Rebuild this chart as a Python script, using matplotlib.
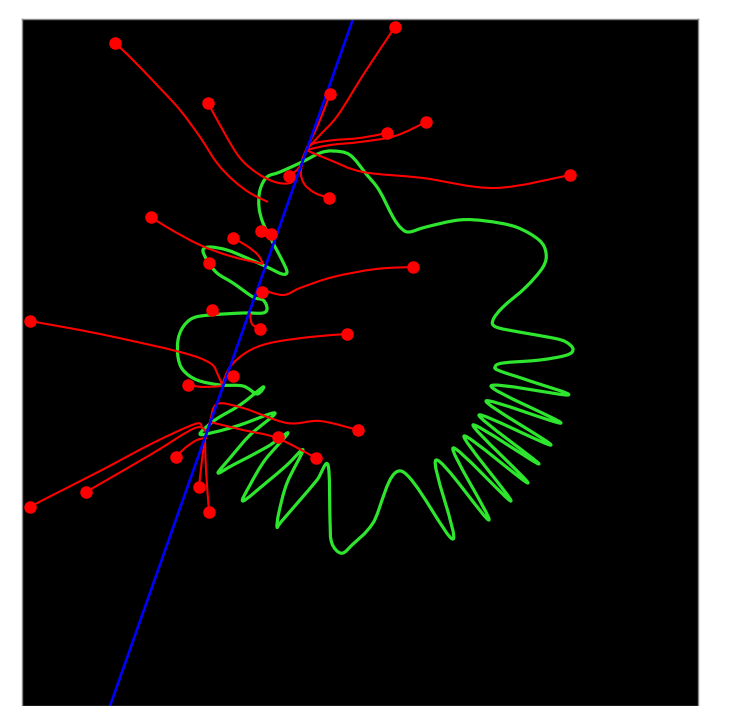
import matplotlib
matplotlib.use("Agg")
import matplotlib.pyplot as plt
from matplotlib.path import Path
from matplotlib.patches import PathPatch
import numpy as np

# Green closed outline (x, y), y grows downward
green_x = [302, 320, 333, 350, 367, 379, 393, 401, 409, 426, 459, 486, 516, 539, 546, 543, 526, 503, 493, 496,
           519, 553, 566, 573, 567, 540, 503, 495, 500, 530, 568, 491, 561, 486, 551, 479, 539, 473,
           528, 464, 511, 453, 489, 436, 453, 401, 373, 352, 343, 336, 331, 330, 328, 317, 300, 281,
           277, 279, 287, 303, 287, 267, 243, 250, 265, 288, 267, 233, 218, 230, 250, 275, 240, 215,
           200, 215, 240, 263, 257, 243, 220, 197, 183, 178, 178, 183, 193, 210, 243, 263, 267, 263,
           253, 233, 217, 207, 203, 210, 227, 247, 267, 282, 287, 282, 273, 263, 259, 260, 267, 280]
green_y = [162, 153, 151, 155, 175, 190, 217, 228, 232, 227, 220, 221, 227, 240, 253, 267, 287, 307, 320, 327,
           332, 338, 342, 349, 355, 360, 363, 367, 371, 381, 395, 386, 423, 401, 445, 415, 464, 425,
           483, 436, 501, 448, 520, 460, 539, 471, 523, 545, 553, 550, 540, 520, 465, 480, 500, 522,
           527, 512, 483, 450, 465, 482, 501, 485, 460, 433, 447, 465, 473, 458, 435, 413, 425, 432,
           434, 420, 405, 387, 394, 386, 385, 380, 370, 357, 340, 327, 318, 315, 313, 313, 308, 300,
           297, 283, 273, 260, 250, 247, 250, 258, 267, 274, 272, 260, 243, 223, 207, 190, 177, 172]

# Blue straight line, ends read at the frame edges
blue_x = [353, 110]
blue_y = [19, 706]

# Red branches: first point of each carries a dot
red_branches = [
    [(395, 27), (365, 72), (338, 115), (320, 135), (306, 150)],
    [(330, 94), (318, 125), (306, 150), (302, 160)],
    [(387, 133), (360, 138), (335, 140), (315, 143), (306, 148)],
    [(426, 122), (395, 136), (360, 142), (330, 145), (306, 150)],
    [(570, 175), (495, 188), (423, 178), (363, 172), (330, 160), (306, 150)],
    [(329, 198), (315, 193), (305, 185), (301, 175), (302, 163)],
    [(115, 43), (130, 57), (157, 85), (180, 110), (200, 137), (217, 163), (233, 180), (250, 193), (268, 202)],
    [(208, 103), (225, 134), (240, 158), (257, 173), (275, 182), (290, 183), (298, 175), (302, 163)],
    [(289, 176), (297, 170), (302, 163)],
    [(151, 217), (170, 229), (200, 245), (230, 256), (263, 264)],
    [(233, 238), (247, 246), (258, 255), (263, 264)],
    [(261, 231)],
    [(271, 234), (275, 243)],
    [(209, 263)],
    [(413, 267), (376, 269), (333, 277), (300, 288), (283, 295), (260, 289)],
    [(262, 292)],
    [(260, 329), (252, 324), (250, 313)],
    [(212, 310), (219, 314)],
    [(30, 321), (100, 334), (180, 352), (210, 363), (218, 375), (222, 385)],
    [(347, 334), (310, 337), (270, 343), (247, 352), (230, 367), (222, 385)],
    [(233, 376)],
    [(188, 385), (203, 387), (222, 386)],
    [(358, 430), (320, 421), (287, 423), (243, 408), (217, 404), (210, 422)],
    [(316, 458), (277, 438), (243, 430), (210, 422)],
    [(278, 437)],
    [(30, 507), (43, 500), (100, 471), (153, 443), (195, 424), (202, 427)],
    [(86, 492), (150, 455), (195, 428), (207, 433)],
    [(176, 457), (185, 448), (197, 440), (207, 438)],
    [(199, 487), (202, 460), (205, 440), (210, 422)],
    [(209, 512), (206, 470), (205, 440)],
]


def smooth_path(pts, closed=False):
    # Catmull-Rom through the traced points, drawn as cubic Bezier segments
    pts = np.asarray(pts, dtype=float)
    n = len(pts)
    if closed:
        ext = np.vstack([pts[-1], pts, pts[0], pts[1]])
    else:
        ext = np.vstack([pts[0], pts, pts[-1]])
    verts = [ext[1]]
    codes = [Path.MOVETO]
    segs = n if closed else n - 1
    for i in range(segs):
        p0, p1, p2, p3 = ext[i], ext[i + 1], ext[i + 2], ext[i + 3]
        c1 = p1 + (p2 - p0) / 6
        c2 = p2 - (p3 - p1) / 6
        verts += [c1, c2, p2]
        codes += [Path.CURVE4] * 3
    return Path(verts, codes)


fig = plt.figure(figsize=(7.52, 7.06), dpi=100)
ax = fig.add_axes([22 / 752, 0, 676 / 752, 687 / 706])
ax.set_facecolor("black")
ax.set_xlim(22, 698)
ax.set_ylim(706, 19)
ax.set_xticks([])
ax.set_yticks([])
for s in ax.spines.values():
    s.set_color("#888888")
    s.set_linewidth(1)

green = smooth_path(list(zip(green_x, green_y)), closed=True)
ax.add_patch(PathPatch(green, fill=False, edgecolor="#2ee62e", lw=2.3, joinstyle="round"))
ax.plot(blue_x, blue_y, color="#0000ff", lw=1.9)

for br in red_branches:
    pts = np.array(br)
    if len(pts) > 1:
        ax.add_patch(PathPatch(smooth_path(pts), fill=False, edgecolor="#ff0000", lw=1.5))
    ax.plot(pts[0, 0], pts[0, 1], "o", color="#ff0000", ms=8)

fig.savefig("out.png", dpi=100)
